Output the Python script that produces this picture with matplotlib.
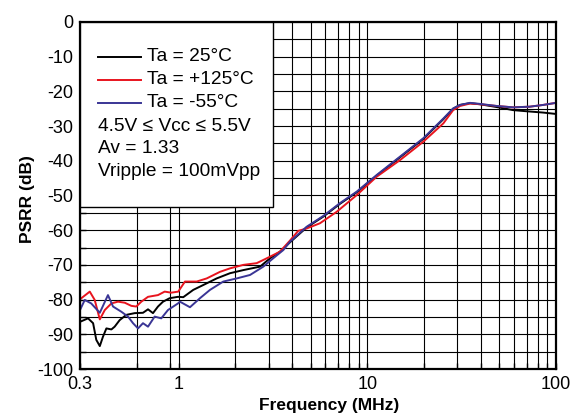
import matplotlib
matplotlib.use('Agg')
import matplotlib.pyplot as plt
from matplotlib.patches import Rectangle
from matplotlib.lines import Line2D
from matplotlib.ticker import NullFormatter

plt.rcParams['font.family'] = ['Liberation Sans', 'DejaVu Sans']

# data (frequency in MHz, PSRR in dB)
freq_25 = [0.3, 0.331, 0.352, 0.366, 0.382, 0.397, 0.414, 0.44, 0.458, 0.487, 0.528, 0.585,
           0.647, 0.688, 0.731, 0.777, 0.826, 0.896, 0.992, 1.058, 1.195, 1.35, 1.59, 1.87,
           2.2, 2.7, 3.05, 3.44, 3.89, 4.77, 5.84, 7.16, 8.78, 11.2, 14.9, 19.8, 25.3, 28.5,
           31.0, 35.0, 39.5, 48.4, 59.3, 72.7, 85.5, 100]
psrr_25 = [-86.4, -85.4, -86.8, -91.6, -93.4, -90.7, -88.3, -88.6, -87.8, -85.9, -84.4, -83.9,
           -83.8, -82.8, -83.9, -82.0, -80.6, -79.6, -79.2, -79.3, -77.2, -75.8, -73.9, -72.4,
           -71.5, -70.5, -68.1, -66.2, -63.5, -59.2, -56.1, -52.4, -49.1, -44.3, -39.0, -33.7,
           -28.0, -25.0, -23.9, -23.4, -23.7, -24.5, -25.4, -25.8, -26.1, -26.5]

freq_125 = [0.3, 0.338, 0.359, 0.382, 0.406, 0.44, 0.477, 0.518, 0.561, 0.596, 0.634, 0.688,
            0.777, 0.843, 0.914, 0.995, 1.08, 1.246, 1.408, 1.656, 1.871, 2.2, 2.59, 2.93,
            3.44, 3.89, 4.3, 4.77, 5.61, 6.88, 8.78, 11.2, 14.9, 19.8, 25.3, 28.5, 31.0, 35.0,
            39.5, 48.4, 59.3, 72.7, 85.5, 100]
psrr_125 = [-79.9, -77.7, -80.1, -85.7, -83.0, -81.1, -80.6, -80.9, -81.8, -82.0, -80.6, -79.2,
            -78.7, -77.7, -78.0, -77.7, -74.8, -74.8, -73.9, -72.0, -71.0, -70.0, -69.5, -68.1,
            -66.2, -63.0, -60.2, -59.5, -58.0, -54.7, -49.9, -44.6, -39.8, -34.5, -29.2, -25.4,
            -24.2, -23.5, -23.7, -24.2, -24.6, -24.4, -23.9, -23.3]

freq_m55 = [0.3, 0.318, 0.344, 0.382, 0.422, 0.449, 0.497, 0.539, 0.573, 0.609, 0.647, 0.688,
            0.746, 0.809, 0.878, 0.992, 1.016, 1.148, 1.297, 1.466, 1.724, 2.03, 2.39, 2.81,
            3.17, 3.59, 3.89, 4.77, 5.84, 7.16, 8.78, 11.2, 14.9, 19.8, 25.3, 28.5, 31.0, 35.0,
            39.5, 48.4, 59.3, 72.7, 85.5, 100]
psrr_m55 = [-83.0, -80.1, -81.1, -83.8, -78.7, -82.0, -83.5, -84.9, -86.8, -88.3, -86.8, -87.8,
            -84.9, -85.4, -83.0, -81.1, -80.6, -82.2, -79.6, -77.2, -74.8, -73.9, -72.9, -70.5,
            -68.1, -65.7, -63.3, -59.0, -55.9, -52.2, -48.9, -44.1, -38.8, -33.5, -27.8, -24.9,
            -23.9, -23.3, -23.6, -24.2, -24.6, -24.4, -23.9, -23.3]

series_labels = ['Ta = 25°C', 'Ta = +125°C', 'Ta = -55°C']
series_colors = ['black', '#e8141e', '#3a3595']
note_lines = ['4.5V \u2264 Vcc \u2264 5.5V', 'Av = 1.33', 'Vripple = 100mVpp']

xtick_vals = [0.3, 1, 10, 100]
xtick_labels = ['0.3', '1', '10', '100']
xgrid_minor = [0.6, 0.9, 2, 3, 4, 5, 6, 7, 8, 9, 20, 30, 40, 50, 60, 70, 80, 90]
ytick_vals = list(range(0, -101, -10))
ytick_labels = [str(v) for v in ytick_vals]
ygrid_minor = list(range(-5, -100, -10))

fig = plt.figure(figsize=(5.79, 4.15), dpi=100)
ax = fig.add_axes([80 / 579, 1 - 369 / 415, 476 / 579, 347 / 415])

for f, p, c in zip([freq_25, freq_125, freq_m55], [psrr_25, psrr_125, psrr_m55], series_colors):
    ax.plot(f, p, color=c, lw=1.4, zorder=2)

ax.set_xscale('log')
ax.set_xlim(0.3, 100)
ax.set_ylim(-100, 0)
ax.set_xticks(xtick_vals, labels=xtick_labels)
ax.set_xticks(xgrid_minor, minor=True)
ax.xaxis.set_minor_formatter(NullFormatter())
ax.set_yticks(ytick_vals, labels=ytick_labels)
ax.set_yticks(ygrid_minor, minor=True)
ax.grid(which='both', color='black', lw=0.8)
ax.tick_params(which='both', direction='in', length=4, width=1, labelsize=13)
ax.tick_params(axis='y', pad=5)
ax.tick_params(axis='x', pad=5)
for s in ax.spines.values():
    s.set_linewidth(1.6)

ax.set_xlabel('Frequency (MHz)', fontsize=12.5, fontweight='bold')
ax.xaxis.set_label_coords(0.523, -0.083)
ax.set_ylabel('PSRR (dB)', fontsize=12.5, fontweight='bold', va='center')
ax.yaxis.set_label_coords(-0.111, 0.49)

# legend box with conditions
ax.add_patch(Rectangle((0, 0.467), 0.405, 0.533, transform=ax.transAxes,
                       facecolor='white', edgecolor='black', lw=1, zorder=3))
rows = [0.900, 0.833, 0.767, 0.698, 0.636, 0.569]
for i, (lab, c) in enumerate(zip(series_labels, series_colors)):
    ax.add_line(Line2D([0.038, 0.128], [rows[i], rows[i]], transform=ax.transAxes,
                       color=c, lw=1.4, zorder=4))
    ax.text(0.141, rows[i], lab, transform=ax.transAxes, fontsize=13.8, va='center', zorder=4)
for i, txt in enumerate(note_lines):
    ax.text(0.038, rows[3 + i], txt, transform=ax.transAxes, fontsize=13.8, va='center', zorder=4)

fig.savefig('out.png', dpi=100)
